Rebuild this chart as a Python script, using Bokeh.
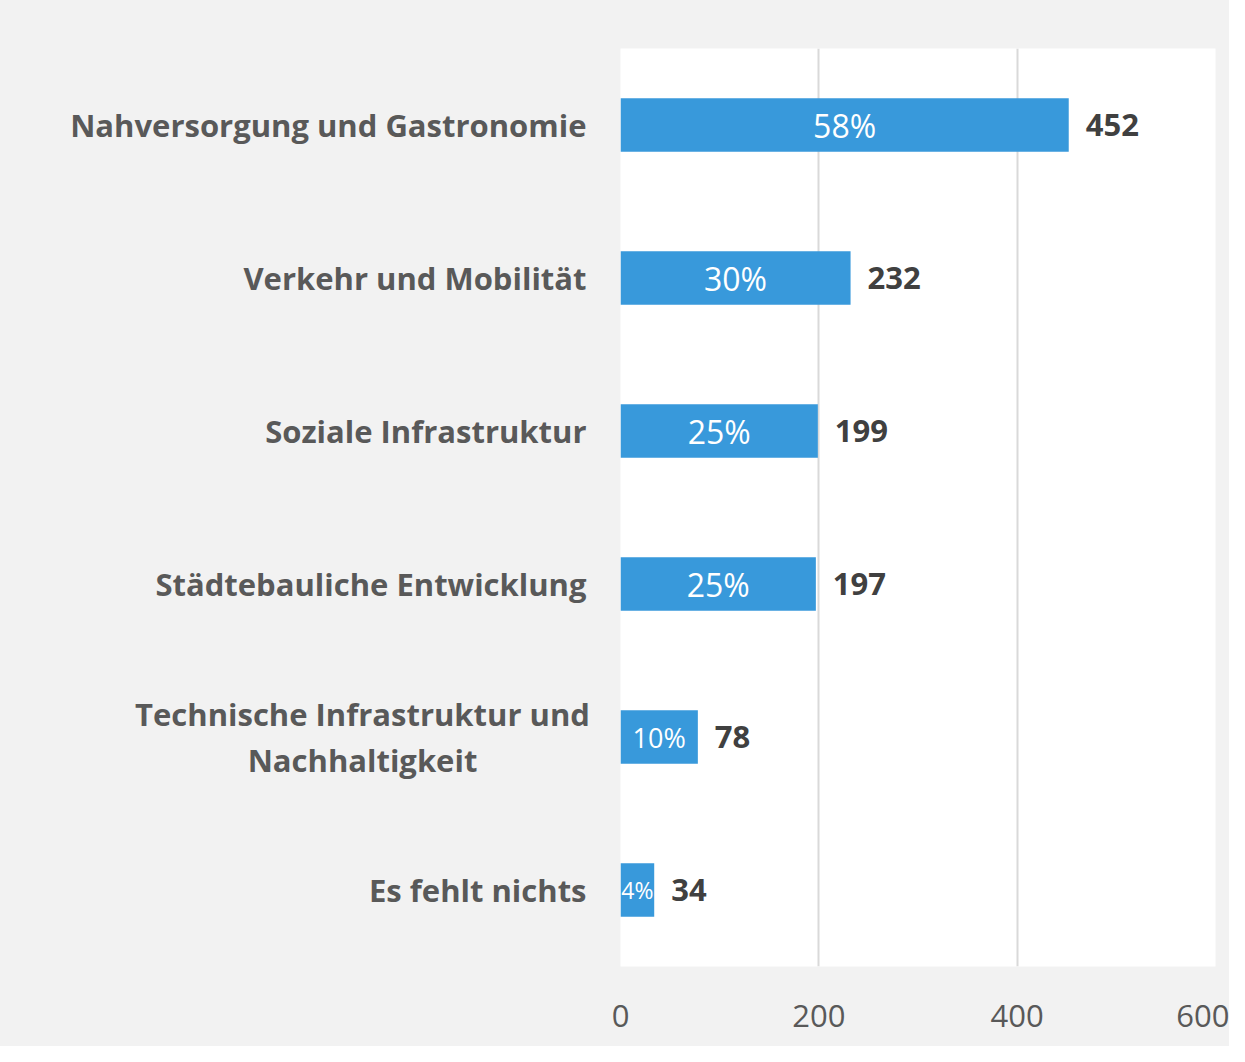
from bokeh.plotting import figure
from bokeh.layouts import row
from bokeh.models import ColumnDataSource, FactorRange, Range1d, FixedTicker
from bokeh.core.properties import value
from bokeh.embed import file_html
from bokeh.resources import INLINE

categories = ["Nahversorgung und Gastronomie", "Verkehr und Mobilität", "Soziale Infrastruktur",
              "Städtebauliche Entwicklung", "Technische Infrastruktur und\nNachhaltigkeit", "Es fehlt nichts"]
counts = [452, 232, 199, 197, 78, 34]
shares = ["58%", "30%", "25%", "25%", "10%", "4%"]
x_ticks = [0, 200, 400, 600]

# styles (kept apart from the data)
share_font = ["32px", "32px", "32px", "32px", "27px", "23px"]
FONT = "Open Sans"
LABEL_COLOR = "#595959"
BG = "#f2f2f2"
LEFT_W = 590
MAIN_PAD = 30
TOP, BOTTOM = 48, 80
HEIGHT = 1046
label_x = [586 if "\n" not in c else 362 for c in categories]
label_align = ["right" if "\n" not in c else "center" for c in categories]

factors = list(reversed(categories))
y_range = FactorRange(factors=factors)

src = ColumnDataSource(dict(
    cat=categories, n=counts, half=[c / 2 for c in counts],
    share=shares, sfont=share_font, nlab=[str(c) for c in counts],
    lx=label_x, lalign=label_align,
))

# left panel carrying the category labels
lp = figure(width=LEFT_W, height=HEIGHT, y_range=y_range, x_range=Range1d(0, LEFT_W),
            output_backend="svg", toolbar_location=None,
            min_border_left=0, min_border_right=0, min_border_top=TOP, min_border_bottom=BOTTOM)
lp.axis.visible = False
lp.grid.visible = False
lp.outline_line_color = None
lp.background_fill_color = None
lp.border_fill_color = BG
lp.text(x="lx", y="cat", text="cat", source=src, text_color=LABEL_COLOR,
        text_font=value(FONT), text_font_size="31px", text_font_style="bold",
        text_align="lalign", text_baseline="middle", text_line_height=1.09)

# main bar chart
p = figure(
    width=1229 - LEFT_W, height=HEIGHT,
    y_range=y_range, x_range=Range1d(0, 600),
    output_backend="svg", toolbar_location=None,
    min_border_left=MAIN_PAD, min_border_right=14, min_border_top=TOP, min_border_bottom=BOTTOM,
)
p.border_fill_color = BG
p.background_fill_color = "white"
p.outline_line_color = None

p.hbar(y="cat", right="n", left=0, height=0.35, source=src, color="#3899db", line_color=None)

p.text(x="half", y="cat", text="share", source=src, text_color="white",
       text_font=value(FONT), text_font_size="sfont", text_align="center",
       text_baseline="middle")
p.text(x="n", y="cat", text="nlab", source=src, text_color="#404040",
       text_font=value(FONT), text_font_size="31px", text_font_style="bold",
       text_align="left", text_baseline="middle", x_offset=17)

p.xgrid.ticker = FixedTicker(ticks=x_ticks)
p.xgrid.grid_line_color = "#d9d9d9"
p.xgrid.grid_line_width = 2
p.ygrid.grid_line_color = None

p.xaxis.ticker = FixedTicker(ticks=x_ticks)
p.xaxis.axis_line_color = None
p.xaxis.major_tick_line_color = None
p.xaxis.minor_tick_line_color = None
p.xaxis.major_label_text_font = FONT
p.xaxis.major_label_text_font_size = "31px"
p.xaxis.major_label_text_color = LABEL_COLOR
p.xaxis.major_label_standoff = 32
p.yaxis.visible = False

layout = row(lp, p, spacing=0, styles={"background-color": BG})
open("out.html", "w").write(file_html(layout, INLINE))
